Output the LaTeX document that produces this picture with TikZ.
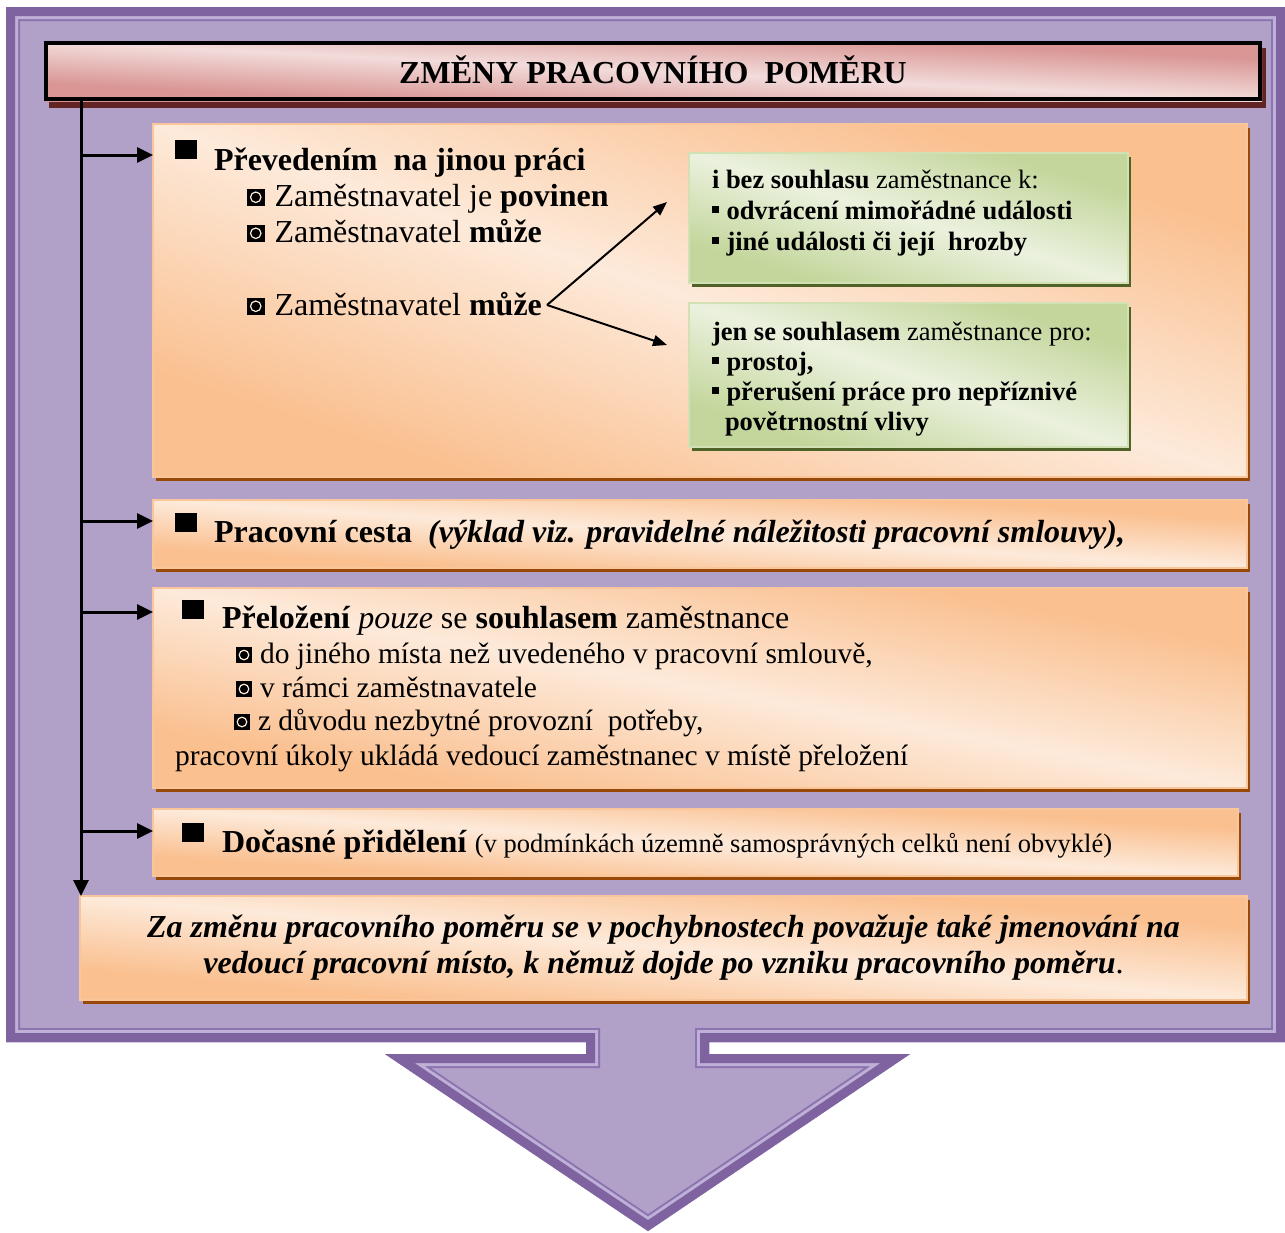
\documentclass[tikz,border=0pt]{standalone}
\usepackage{fontspec}
\setmainfont{Liberation Serif}
\usetikzlibrary{arrows.meta,calc}

\definecolor{frDark}{HTML}{7F63A1}
\definecolor{frFill}{HTML}{B1A0C7}
\definecolor{frLight}{HTML}{BEB0D6}
\definecolor{frMid}{HTML}{8C74B0}
\definecolor{oLight}{HTML}{FDEADA}
\definecolor{oDark}{HTML}{FAC090}
\definecolor{oBorder}{HTML}{F9C59A}
\definecolor{oShadow}{HTML}{984807}
\definecolor{gLight}{HTML}{EBF1DE}
\definecolor{gDark}{HTML}{C3D69B}
\definecolor{gBorder}{HTML}{D2E1B4}
\definecolor{gShadow}{HTML}{4F6228}
\definecolor{pLight}{HTML}{F2DCDB}
\definecolor{pDark}{HTML}{D99694}
\definecolor{pShadow}{HTML}{632523}

\newcommand\fA{\fontsize{32}{37}\selectfont}
\newcommand\fB{\fontsize{29.5}{34}\selectfont}
\newcommand\fC{\fontsize{26.5}{31}\selectfont}
\newcommand\cbul[1]{\tikz[x=1pt,y=1pt,baseline=0pt]{\fill[black] (0,0) rectangle (#1,#1); \draw[white!85!orange,line width=1.2pt] (#1/2,#1/2) circle ({#1*0.3});}}
\newcommand\smb{\rule[6pt]{6.5pt}{7pt}}
% name, x, y, w, h, dark, light, border, shadow
\newcommand\shbox[9]{%
  \fill[#9] (#2+3,#3+4) rectangle (#2+#4+3,#3+#5+4);
  \begin{scope}[transform canvas={shift={(#2,#3)},xscale=#4,yscale=#5}]
    \shade[top color=#6,bottom color=#6,middle color=#7,shading angle=-45] (0,0) rectangle (1,1);
  \end{scope}
  \node[boxnode, minimum width=#4pt, minimum height=#5pt, draw=#8, line width=1.5pt] (#1) at (#2,#3) {};
}

\begin{document}
\begin{tikzpicture}[x=1pt,y=-1pt,
  txt/.style={anchor=base west, inner sep=0pt, outer sep=0pt, text=black},
  ctxt/.style={anchor=base, inner sep=0pt, outer sep=0pt, text=black},
  boxnode/.style={anchor=north west, inner sep=0pt, outer sep=0pt},
  conn/.style={line width=3pt, -{Triangle[length=16pt,width=15pt]}},
  marrow/.style={line width=2pt, -{Triangle[length=14pt,width=11pt]}}
]
\useasboundingbox (0,0) rectangle (1285,1232);
\fill[white] (0,0) rectangle (1285,1232);

% frame with arrow
\fill[frFill] (6,7) -- (1285,7) -- (1285,1042) -- (709,1042) -- (709,1054) -- (910,1054) -- (648,1231) -- (385,1054) -- (586,1054) -- (586,1042) -- (6,1042) -- cycle;
\begin{scope}
\clip (6,7) -- (1285,7) -- (1285,1042) -- (709,1042) -- (709,1054) -- (910,1054) -- (648,1231) -- (385,1054) -- (586,1054) -- (586,1042) -- (6,1042) -- cycle;
\draw[frMid, line width=28pt, line join=miter] (6,7) -- (1285,7) -- (1285,1042) -- (709,1042) -- (709,1054) -- (910,1054) -- (648,1231) -- (385,1054) -- (586,1054) -- (586,1042) -- (6,1042) -- cycle;
\draw[frLight, line width=24pt, line join=miter] (6,7) -- (1285,7) -- (1285,1042) -- (709,1042) -- (709,1054) -- (910,1054) -- (648,1231) -- (385,1054) -- (586,1054) -- (586,1042) -- (6,1042) -- cycle;
\draw[frDark, line width=18pt, line join=miter] (6,7) -- (1285,7) -- (1285,1042) -- (709,1042) -- (709,1054) -- (910,1054) -- (648,1231) -- (385,1054) -- (586,1054) -- (586,1042) -- (6,1042) -- cycle;
\end{scope}

% title
\fill[pShadow] (49,48) rectangle (1266,108);
\begin{scope}[transform canvas={shift={(44,41)},xscale=1218,yscale=60}]
  \shade[top color=pDark,bottom color=pDark,middle color=pLight,shading angle=-45] (0,0) rectangle (1,1);
\end{scope}
\node[boxnode, minimum width=1214pt, minimum height=56pt, draw=black, line width=4pt] (title) at (46,43) {};
\node[ctxt] (ttext) at (653,83) {\fA\bfseries ZMĚNY PRACOVNÍHO\ \ POMĚRU};

% boxes
\shbox{b1}{153}{124}{1094}{353}{oDark}{oLight}{oBorder}{oShadow}
\shbox{b2}{153}{500}{1094}{68}{oDark}{oLight}{oBorder}{oShadow}
\shbox{b3}{153}{588}{1094}{200}{oDark}{oLight}{oBorder}{oShadow}
\shbox{b4}{153}{809}{1085}{67}{oDark}{oLight}{oBorder}{oShadow}
\shbox{b5}{80}{896}{1167}{104}{oDark}{oLight}{oBorder}{oShadow}
\shbox{gA}{689}{153}{439}{130}{gDark}{gLight}{gBorder}{gShadow}
\shbox{gB}{689}{303}{439}{144}{gDark}{gLight}{gBorder}{gShadow}

% connectors
\coordinate (tx) at (81,0);
\draw[conn] (title.south -| tx) -- (b5.north -| tx);
\coordinate (b1a) at ($(b1.north west)+(0,31)$);
\coordinate (b2a) at ($(b2.north west)+(0,21)$);
\coordinate (b3a) at ($(b3.north west)+(0,24)$);
\coordinate (b4a) at ($(b4.north west)+(0,22)$);
\draw[conn] (tx |- b1a) -- (b1a);
\draw[conn] (tx |- b2a) -- (b2a);
\draw[conn] (tx |- b3a) -- (b3a);
\draw[conn] (tx |- b4a) -- (b4a);

% box 1 text
\node[txt] (l11) at (175,170) {\fA\rule[11pt]{22pt}{19pt}\hspace{17pt}\textbf{Převedením\ \ na jinou práci}};
\node[txt] (l12) at (247,206) {\fA\cbul{17.5}\hspace{10pt}Zaměstnavatel je \textbf{povinen}};
\node[txt] (l13) at (247,242) {\fA\cbul{17.5}\hspace{10pt}Zaměstnavatel \textbf{může}};
\node[txt] (m2) at (247,315) {\fA\cbul{17.5}\hspace{10pt}Zaměstnavatel \textbf{může}};
\coordinate (ms) at (547,305);
\coordinate (t1) at (667,202);
\coordinate (t2) at (667,345);
\draw[marrow] (ms) -- (t1);
\draw[marrow] (ms) -- (t2);

% green boxes text
\node[txt] (ga1) at (712,188) {\fC\textbf{i bez souhlasu} zaměstnance k:};
\node[txt] (ga2) at (712,219) {\fC\smb\hspace{8pt}\textbf{odvrácení mimořádné události}};
\node[txt] (ga3) at (712,250) {\fC\smb\hspace{8pt}\textbf{jiné události či její\ \ hrozby}};
\node[txt] (gb1) at (712,340) {\fC\textbf{jen se souhlasem} zaměstnance pro:};
\node[txt] (gb2) at (712,370) {\fC\smb\hspace{8pt}\textbf{prostoj,}};
\node[txt] (gb3) at (712,400) {\fC\smb\hspace{8pt}\textbf{přerušení práce pro nepříznivé}};
\node[txt] (gb4) at (725,430) {\fC\textbf{povětrnostní vlivy}};

% box 2 text
\node[txt] (l21) at (175,542) {\fA\rule[10pt]{22pt}{19pt}\hspace{17pt}\textbf{Pracovní cesta}\ \ \textbf{\textit{(výklad viz. pravidelné náležitosti pracovní smlouvy),}}};

% box 3 text
\node[txt] (l31) at (182,628) {\fA\rule[9pt]{22pt}{19pt}\hspace{18pt}\textbf{Přeložení} \textit{pouze} se \textbf{souhlasem} zaměstnance};
\node[txt] (l32) at (236,663) {\fB\cbul{16}\hspace{8pt}do jiného místa než uvedeného v pracovní smlouvě,};
\node[txt] (l33) at (236,697) {\fB\cbul{16}\hspace{8pt}v rámci zaměstnavatele};
\node[txt] (l34) at (234,730) {\fB\cbul{16}\hspace{8pt}z důvodu nezbytné provozní\ \ potřeby,};
\node[txt] (l35) at (175,765) {\fB pracovní úkoly ukládá vedoucí zaměstnanec v místě přeložení};

% box 4 text
\node[txt] (l41) at (182,852) {\fA\rule[10pt]{22pt}{19pt}\hspace{18pt}\textbf{Dočasné přidělení} {\fC (v podmínkách územně samosprávných celků není obvyklé)}};

% box 5 text
\node[ctxt] (l51) at (663.5,937) {\fA\textbf{\textit{Za změnu pracovního poměru se v pochybnostech považuje také jmenování na}}};
\node[ctxt] (l52) at (663.5,973) {\fA\textbf{\textit{vedoucí pracovní místo, k němuž dojde po vzniku pracovního poměru}}.};
\end{tikzpicture}
\end{document}
